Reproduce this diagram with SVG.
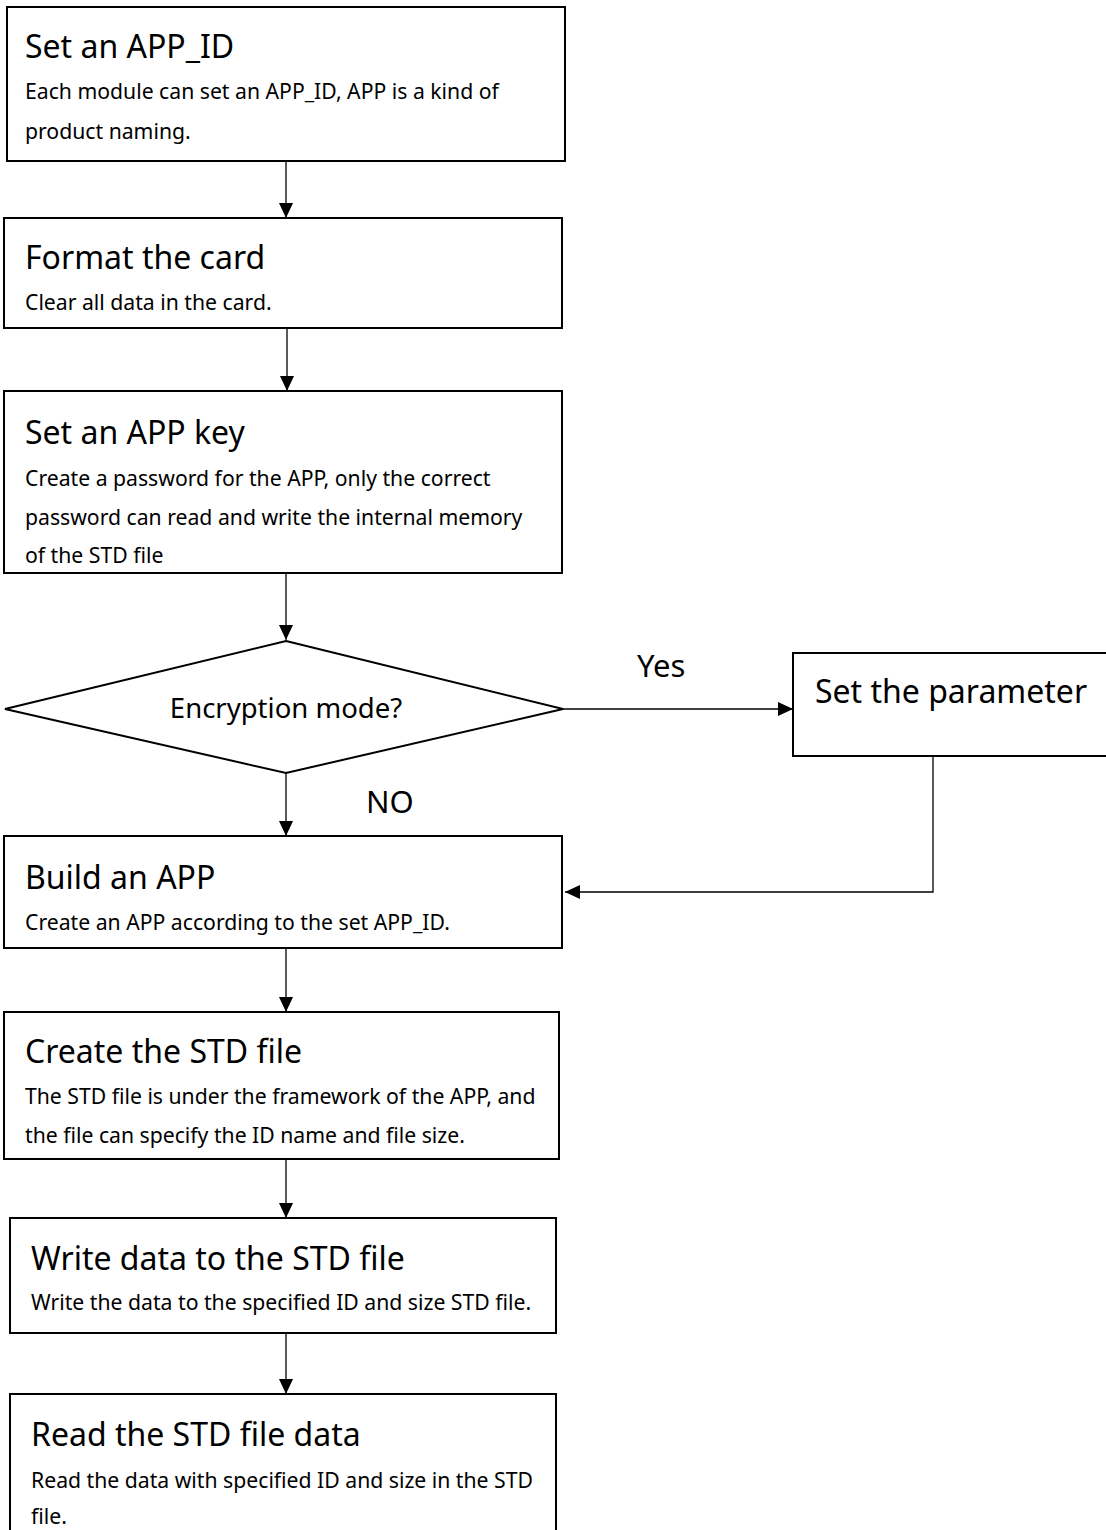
<svg xmlns="http://www.w3.org/2000/svg" width="1106" height="1530" viewBox="0 0 1106 1530">
<defs>
<marker id="ah" markerWidth="14" markerHeight="16" refX="15" refY="7" orient="auto" markerUnits="userSpaceOnUse">
<path d="M0,0 L15,7 L0,14 Z" fill="#000"/>
</marker>
<style>
.box{fill:#fff;stroke:#000;stroke-width:2}
.t{font-family:"Noto Sans","Open Sans",sans-serif;font-size:32px;fill:#000}
.b{font-family:"Noto Sans","Open Sans",sans-serif;font-size:21.2px;fill:#000}
.d{font-family:"Noto Sans","Open Sans",sans-serif;font-size:27.5px;fill:#000}
.l{font-family:"Noto Sans","Open Sans",sans-serif;font-size:31px;fill:#000}
.c{fill:none;stroke:#000;stroke-width:1.3}
</style>
</defs>
<rect width="1106" height="1530" fill="#fff"/>
<g id="connectors">
<line class="c" x1="286" y1="161" x2="286" y2="218" marker-end="url(#ah)"/>
<line class="c" x1="287" y1="328" x2="287" y2="391" marker-end="url(#ah)"/>
<line class="c" x1="286" y1="573" x2="286" y2="640" marker-end="url(#ah)"/>
<line class="c" x1="563" y1="709" x2="793" y2="709" marker-end="url(#ah)"/>
<line class="c" x1="286" y1="773" x2="286" y2="836" marker-end="url(#ah)"/>
<polyline class="c" points="933,756 933,892 565,892" marker-end="url(#ah)"/>
<line class="c" x1="286" y1="948" x2="286" y2="1012" marker-end="url(#ah)"/>
<line class="c" x1="286" y1="1159" x2="286" y2="1218" marker-end="url(#ah)"/>
<line class="c" x1="286" y1="1333" x2="286" y2="1394" marker-end="url(#ah)"/>
<text class="l" x="637" y="677">Yes</text>
<text class="l" x="366" y="813">NO</text>
</g>
<g id="n1">
<rect class="box" x="7" y="7" width="558" height="154"/>
<text class="t" x="25" y="58">Set an APP_ID</text>
<text class="b" x="25" y="99">Each module can set an APP_ID, APP is a kind of</text>
<text class="b" x="25" y="139">product naming.</text>
</g>
<g id="n2">
<rect class="box" x="4" y="218" width="558" height="110"/>
<text class="t" x="25" y="269">Format the card</text>
<text class="b" x="25" y="310">Clear all data in the card.</text>
</g>
<g id="n3">
<rect class="box" x="4" y="391" width="558" height="182"/>
<text class="t" x="25" y="444">Set an APP key</text>
<text class="b" x="25" y="486">Create a password for the APP, only the correct</text>
<text class="b" x="25" y="525">password can read and write the internal memory</text>
<text class="b" x="25" y="563">of the STD file</text>
</g>
<g id="n4">
<polygon class="box" points="286,641 563,709 286,773 5,709"/>
<text class="d" x="286" y="718" text-anchor="middle">Encryption mode?</text>
</g>
<g id="n5">
<rect class="box" x="793" y="653" width="320" height="103"/>
<text class="t" x="815" y="703">Set the parameter</text>
</g>
<g id="n6">
<rect class="box" x="4" y="836" width="558" height="112"/>
<text class="t" x="25" y="889">Build an APP</text>
<text class="b" x="25" y="930">Create an APP according to the set APP_ID.</text>
</g>
<g id="n7">
<rect class="box" x="4" y="1012" width="555" height="147"/>
<text class="t" x="25" y="1063">Create the STD file</text>
<text class="b" x="25" y="1104">The STD file is under the framework of the APP, and</text>
<text class="b" x="25" y="1143">the file can specify the ID name and file size.</text>
</g>
<g id="n8">
<rect class="box" x="10" y="1218" width="546" height="115"/>
<text class="t" x="31" y="1270">Write data to the STD file</text>
<text class="b" x="31" y="1310">Write the data to the specified ID and size STD file.</text>
</g>
<g id="n9">
<rect class="box" x="10" y="1394" width="546" height="150"/>
<text class="t" x="31" y="1446">Read the STD file data</text>
<text class="b" x="31" y="1488">Read the data with specified ID and size in the STD</text>
<text class="b" x="31" y="1524">file.</text>
</g>
</svg>
